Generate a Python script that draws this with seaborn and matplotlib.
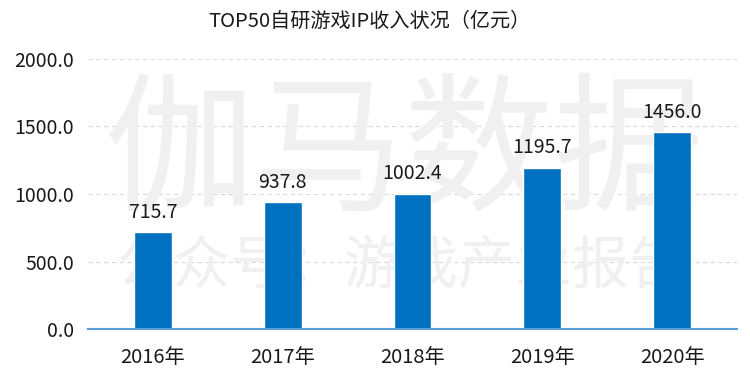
import matplotlib
matplotlib.use('Agg')
import matplotlib.pyplot as plt
import seaborn as sns
import pandas as pd

# data
years = ['2016年', '2017年', '2018年', '2019年', '2020年']
revenue = [715.7, 937.8, 1002.4, 1195.7, 1456.0]
title = 'TOP50自研游戏IP收入状况（亿元）'
yticks = [0, 500, 1000, 1500, 2000]

sns.set_style("white")
plt.rcParams['font.family'] = ['Noto Sans CJK SC', 'DejaVu Sans']

df = pd.DataFrame({'year': years, 'revenue': revenue})

fig = plt.figure(figsize=(7.5, 3.84), dpi=100)
ax = fig.add_axes([0.1173, 0.1432, 0.8654, 0.7032])

# watermark, kept behind the bars
ax.text(0.54, 0.595, '伽马数据', fontsize=108, color='#F0F0F0',
        ha='center', va='center', zorder=1, transform=fig.transFigure)
ax.text(0.535, 0.305, '公众号：游戏产业报告', fontsize=41, color='#F0F0F0',
        ha='center', va='center', zorder=1, transform=fig.transFigure)

sns.barplot(data=df, x='year', y='revenue', color='#0070C0', saturation=1,
            width=0.29, ax=ax, zorder=3)

for i, v in enumerate(revenue):
    ax.annotate(f'{v:.1f}', (i, v), xytext=(0, 7), textcoords='offset points',
                ha='center', va='bottom', fontsize=14, color='#1A1A1A', zorder=4)

ax.set_ylim(0, 2000)
ax.set_xlim(-0.5, 4.5)
ax.set_yticks(yticks)
ax.set_yticklabels([f'{t:.1f}' for t in yticks])
ax.yaxis.grid(True, linestyle=(0, (4, 3)), color='#D9D9D9', linewidth=0.8, zorder=0)
ax.set_axisbelow(True)

for s in ['top', 'right', 'left']:
    ax.spines[s].set_visible(False)
ax.spines['bottom'].set_color('#5B9BD5')
ax.spines['bottom'].set_linewidth(1.5)
ax.spines['bottom'].set_zorder(5)

ax.tick_params(axis='both', length=0, colors='#1A1A1A')
ax.tick_params(axis='x', pad=13, labelsize=14.5)
ax.tick_params(axis='y', pad=10, labelsize=14)
ax.set_xlabel('')
ax.set_ylabel('')

fig.text(0.493, 0.945, title, fontsize=14.5, ha='center', va='center', color='#1A1A1A')

plt.savefig('out.png', dpi=100)
